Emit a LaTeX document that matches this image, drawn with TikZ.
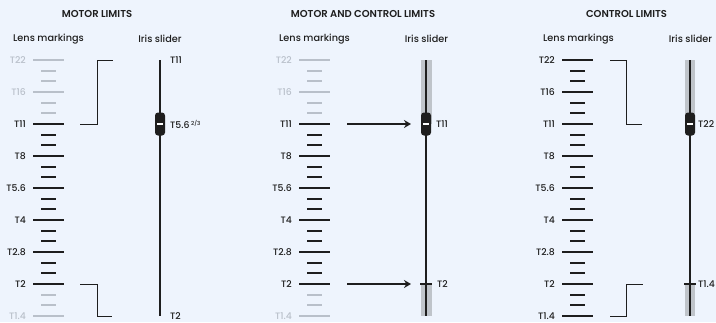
\documentclass[tikz,border=0pt]{standalone}
\usepackage{fontspec}
\setmainfont{Poppins}[UprightFont=* Medium, BoldFont=* SemiBold]
\usetikzlibrary{arrows.meta}
\definecolor{bg}{HTML}{EEF4FD}
\definecolor{ink}{HTML}{1E1E1E}
\definecolor{dim}{HTML}{B9C0CA}
\definecolor{band}{HTML}{BFC4CA}
\newcommand\lensscale[3]{%
  \foreach \lab [count=\i from 0] in {T22,T16,T11,T8,T5.6,T4,T2.8,T2,T1.4} {
    \pgfmathtruncatemacro\isdim{#3*((\i<2)||(\i>7))}
    \ifnum\isdim=1 \def\cc{dim}\else\def\cc{ink}\fi
    \draw[majortick,\cc] (#1+33,60+32*\i) -- (#1+64,60+32*\i);
    \node[tlabel,text=\cc] (#2l\i) at (#1+26,60+32*\i) {\lab};
    \ifnum\i<8
      \pgfmathtruncatemacro\isdimm{#3*((\i<2)||(\i>6))}
      \ifnum\isdimm=1 \def\cm{dim}\else\def\cm{ink}\fi
      \draw[minortick,\cm] (#1+41,60+32*\i+10.67) -- (#1+56,60+32*\i+10.67);
      \draw[minortick,\cm] (#1+41,60+32*\i+21.33) -- (#1+56,60+32*\i+21.33);
    \fi
  }}
\begin{document}
\begin{tikzpicture}[x=1pt,y=-1pt,
  title/.style={font=\fontsize{10}{12}\selectfont\bfseries, text=ink},
  head/.style={font=\fontsize{9.7}{12}\selectfont, text=ink},
  tlabel/.style={font=\fontsize{9.3}{11}\selectfont, anchor=east, inner sep=0pt},
  slab/.style={font=\fontsize{9.3}{11}\selectfont, anchor=west, inner sep=0pt, text=ink},
  majortick/.style={line width=2pt},
  minortick/.style={line width=2pt},
  slider/.style={line width=2pt, draw=ink},
  bandbar/.style={fill=band, draw=none},
  knob/.style={fill=ink, draw=none, rounded corners=3pt, minimum width=10pt, minimum height=23pt, inner sep=0pt},
  bracket/.style={draw=ink, line width=1pt},
  arrowline/.style={draw=ink, line width=2pt, -{Stealth[length=7pt,width=8pt]}},
  stopmark/.style={draw=ink, line width=1.5pt}
]
\useasboundingbox (0,0) rectangle (716,322);
\fill[bg] (0,0) rectangle (716,322);

% ---------- panel 1 ----------
\node[title] (t1) at (97,14) {MOTOR LIMITS};
\node[head] (h1a) at (48.5,39) {Lens markings};
\node[head] (h1b) at (160,39) {Iris slider};
\lensscale{0}{a}{1}
\coordinate (a11) at (80,124);
\coordinate (a12) at (113,60);
\draw[bracket] (a11) -| (97,60) -- (a12);
\coordinate (a21) at (80,284);
\coordinate (a22) at (112,316);
\draw[bracket] (a21) -| (97,316) -- (a22);
\coordinate (s1t) at (160,60);
\coordinate (s1b) at (160,316);
\draw[slider] (s1t) -- (s1b);
\node[knob] (k1) at (160,124) {};
\fill[white] (k1.center) +(-3,-1) rectangle +(3,1);
\node[slab] (r1a) at (170,60) {T11};
\node[slab] (r1b) at (170,124) {T5.6\,\raisebox{0.6ex}{\fontsize{5.5}{6}\selectfont 2/3}};
\node[slab] (r1c) at (170,316) {T2};

% ---------- panel 2 ----------
\node[title] (t2) at (363,14) {MOTOR AND CONTROL LIMITS};
\node[head] (h2a) at (314.5,39) {Lens markings};
\node[head] (h2b) at (426.5,39) {Iris slider};
\lensscale{266}{b}{1}
\fill[bandbar] (421,60) rectangle (432,124);
\fill[bandbar] (421,284) rectangle (432,316);
\coordinate (s2t) at (426,60);
\coordinate (s2b) at (426,316);
\draw[slider] (s2t) -- (s2b);
\node[knob] (k2) at (426,124) {};
\fill[white] (k2.center) +(-3,-1) rectangle +(3,1);
\coordinate (m2) at (426,284);
\draw[stopmark] ([xshift=-6pt]m2) -- ([xshift=6pt]m2);
\coordinate (b1s) at (347,124);
\coordinate (b1e) at (411,124);
\draw[arrowline] (b1s) -- (b1e);
\coordinate (b2s) at (347,284);
\coordinate (b2e) at (411,284);
\draw[arrowline] (b2s) -- (b2e);
\node[slab] (r2a) at (436,124) {T11};
\node[slab] (r2b) at (437,284) {T2};

% ---------- panel 3 ----------
\node[title] (t3) at (626.5,14) {CONTROL LIMITS};
\node[head] (h3a) at (578.5,39) {Lens markings};
\node[head] (h3b) at (690.5,39) {Iris slider};
\lensscale{529}{c}{0}
\coordinate (c11) at (610,60);
\coordinate (c12) at (642,124);
\draw[bracket] (c11) -| (626,124) -- (c12);
\coordinate (c21) at (610,316);
\coordinate (c22) at (643,284);
\draw[bracket] (c21) -| (626,284) -- (c22);
\fill[bandbar] (685,60) rectangle (695,124);
\fill[bandbar] (685,284) rectangle (695,316);
\coordinate (s3t) at (690,60);
\coordinate (s3b) at (690,316);
\draw[slider] (s3t) -- (s3b);
\node[knob] (k3) at (690,124) {};
\fill[white] (k3.center) +(-3,-1) rectangle +(3,1);
\coordinate (m3) at (690,284);
\draw[stopmark] ([xshift=-6pt]m3) -- ([xshift=6pt]m3);
\node[slab] (r3a) at (698,124) {T22};
\node[slab] (r3b) at (698,284) {T1.4};
\end{tikzpicture}
\end{document}
